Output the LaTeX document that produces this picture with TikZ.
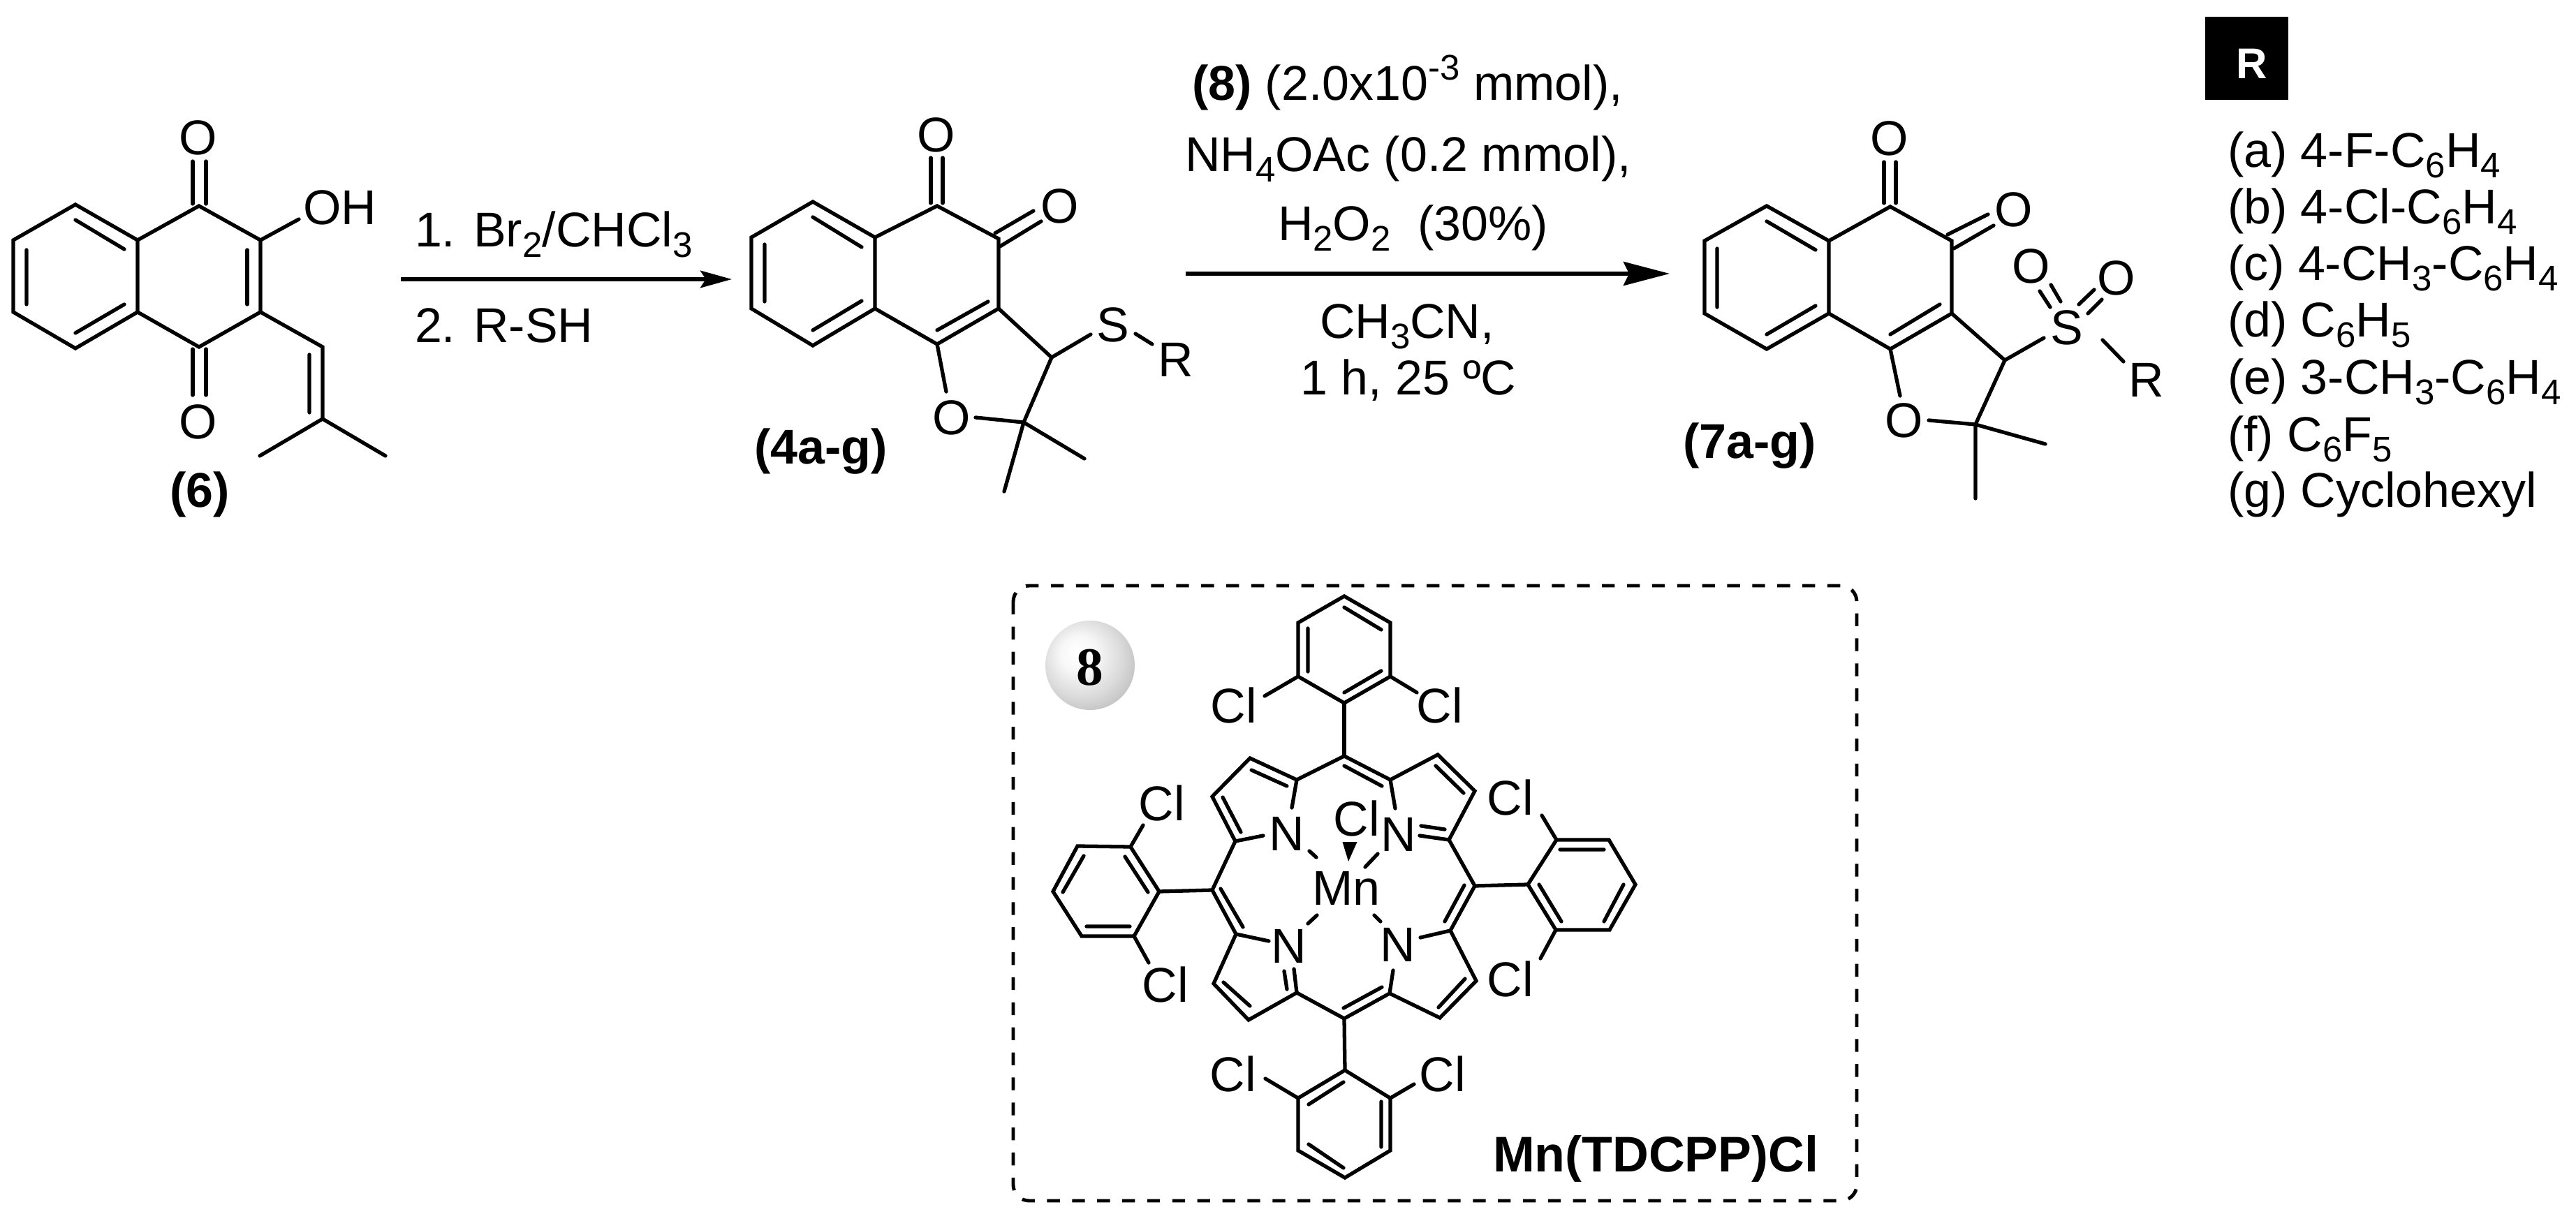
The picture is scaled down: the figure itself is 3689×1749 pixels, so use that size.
\documentclass[tikz,border=0pt]{standalone}
\usepackage{fontspec}
\setmainfont{Liberation Sans}
\newfontfamily\ballfont{Liberation Serif}
\usetikzlibrary{arrows.meta}
\newcommand{\sbs}[1]{\raisebox{-0.21em}{\fontsize{14.5}{14.5}\selectfont #1}}
\newcommand{\sps}[1]{\raisebox{0.42em}{\fontsize{14.5}{14.5}\selectfont #1}}
\pgfdeclareradialshading{ballshade}{\pgfpoint{-8bp}{8bp}}{%
  color(0bp)=(white); color(10bp)=(white!97!black); color(22bp)=(white!86!black);
  color(34bp)=(white!72!black); color(42bp)=(white!62!black); color(50bp)=(white!70!black)}
\tikzset{
  bond/.style={line width=1.5pt,line cap=round,line join=miter,black},
  atom/.style={inner sep=0pt,outer sep=0pt,font=\fontsize{19.9}{24}\selectfont},
  txt/.style={inner sep=0pt,outer sep=0pt,anchor=base west,font=\fontsize{19.9}{24}\selectfont},
  boldlab/.style={inner sep=0pt,outer sep=0pt,anchor=base west,font=\fontsize{19.9}{24}\selectfont\bfseries},
  rxnA/.style={line width=1.45pt,-{Stealth[length=12.8pt,width=7pt,inset=2.2pt]}},
  rxnB/.style={line width=1.45pt,-{Stealth[length=18.8pt,width=9.7pt,inset=2.3pt]}},
  frame/.style={line width=1.4pt,rounded corners=6.5pt,dash pattern=on 5.2pt off 5pt},
}
\begin{document}
\begin{tikzpicture}[x=0.01cm,y=-0.01cm]
\useasboundingbox (0,0) rectangle (3689,1749);

% ---------- compound 6
\draw[bond] (108,293)--(19,344)--(19,447)--(108,499)--(197,447)--(197,344)--cycle;
\draw[bond] (197,344)--(285,295)--(373,344)--(373,447)--(285,497)--(197,447);
\draw[bond] (108,315)--(178,357) (38,358)--(38,436) (108,477)--(178,436);
\draw[bond] (354,358)--(354,436);
\draw[bond] (276,292)--(276,231) (295,292)--(295,231);
\draw[bond] (276,500)--(276,566) (295,500)--(295,566);
\draw[bond] (373,344)--(428,314);
\draw[bond] (373,447)--(462,497)--(462,600) (443,508)--(443,591);
\draw[bond] (372,653)--(462,600)--(552,653);
\node[atom] (o6a) at (284,197) {O};
\node[atom] (o6b) at (284,604) {O};
\node[atom,anchor=west] (oh6) at (434,297) {OH};
\node[boldlab] (lab6) at (243,727) {(6)};

% ---------- first arrow
\node[txt] (ra1) at (594,354) {1. Br\sbs{2}/CHCl\sbs{3}};
\node[txt] (ra2) at (594,491) {2. R-SH};
\coordinate (a1s) at (574,400);
\coordinate (a1e) at (1048,400);
\draw[rxnA] (a1s)--(a1e);

% ---------- compound 4
\draw[bond] (1164,289)--(1076,340)--(1076,442)--(1164,495)--(1253,442)--(1253,340)--cycle;
\draw[bond] (1253,340)--(1342,295)--(1430,342)--(1430,442)--(1342,493)--(1253,442);
\draw[bond] (1164,311)--(1234,354) (1095,350)--(1095,432) (1164,473)--(1234,431);
\draw[bond] (1415,432)--(1342,473);
\draw[bond] (1333,291)--(1333,226) (1350,291)--(1350,226);
\draw[bond] (1425,334)--(1480,302) (1432,353)--(1491,317);
\draw[bond] (1430,442)--(1506,512)--(1466,605)--(1397,598);
\draw[bond] (1342,493)--(1355,561);
\draw[bond] (1466,605)--(1553,657) (1466,605)--(1438,704);
\draw[bond] (1506,512)--(1562,479) (1626,478)--(1650,493);
\node[atom] (o4a) at (1341,193) {O};
\node[atom] (o4b) at (1518,295) {O};
\node[atom] (o4c) at (1363,598) {O};
\node[atom] (s4) at (1594,465) {S};
\node[atom] (r4) at (1684,515) {R};
\node[boldlab] (lab4) at (1080,665) {(4a-g)};

% ---------- second arrow
\node[txt] (rb1) at (1707,144) {\textbf{(8)} (2.0x10\sps{-3} mmol),};
\node[txt] (rb2) at (1697,246) {NH\sbs{4}OAc (0.2 mmol),};
\node[txt] (rb3) at (1830,345) {H\sbs{2}O\sbs{2}\ \ (30\%)};
\node[txt] (rb4) at (1890,485) {CH\sbs{3}CN,};
\node[txt] (rb5) at (1862,566) {1 h, 25 ºC};
\coordinate (a2s) at (1698,392);
\coordinate (a2e) at (2391,392);
\draw[rxnB] (a2s)--(a2e);

% ---------- compound 7
\draw[bond] (2530,295)--(2441,345)--(2441,449)--(2530,500)--(2619,449)--(2619,345)--cycle;
\draw[bond] (2619,345)--(2707,296)--(2795,345)--(2795,449)--(2707,500)--(2619,449);
\draw[bond] (2530,317)--(2600,358) (2459,356)--(2459,440) (2530,479)--(2600,438);
\draw[bond] (2707,479)--(2778,436);
\draw[bond] (2698,291)--(2698,232) (2715,291)--(2715,232);
\draw[bond] (2789,336)--(2847,307) (2798,356)--(2855,323);
\draw[bond] (2795,449)--(2871,516)--(2829,608)--(2762,602);
\draw[bond] (2707,500)--(2721,567);
\draw[bond] (2829,608)--(2929,636) (2829,608)--(2829,714);
\draw[bond] (2871,516)--(2927,484) (3011,487)--(3041,518);
\draw[bond] (2921,417)--(2936,440) (2937,408)--(2951,432);
\draw[bond] (2977,436)--(2999,415) (2990,449)--(3010,429);
\node[atom] (o7a) at (2706,198) {O};
\node[atom] (o7b) at (2884,300) {O};
\node[atom] (o7c) at (2727,602) {O};
\node[atom] (o7d) at (2909,381) {O};
\node[atom] (o7e) at (3031,398) {O};
\node[atom] (s7) at (2960,469) {S};
\node[atom] (r7) at (3074,544) {R};
\node[boldlab] (lab7) at (2410,657) {(7a-g)};

% ---------- R table
\node[fill=black,minimum width=119*0.2845pt,minimum height=119*0.2845pt,inner sep=0pt] (rbox) at (3217.5,83.5) {};
\node[inner sep=0pt,text=white,font=\fontsize{17.5}{20}\selectfont\bfseries] (rlab) at (3225,91) {R};
\node[txt] (ra) at (3190,240) {(a) 4-F-C\sbs{6}H\sbs{4}};
\node[txt] (rb) at (3190,321) {(b) 4-Cl-C\sbs{6}H\sbs{4}};
\node[txt] (rc) at (3190,402) {(c) 4-CH\sbs{3}-C\sbs{6}H\sbs{4}};
\node[txt] (rd) at (3190,483) {(d) C\sbs{6}H\sbs{5}};
\node[txt] (re) at (3190,565) {(e) 3-CH\sbs{3}-C\sbs{6}H\sbs{4}};
\node[txt] (rf) at (3190,647) {(f) C\sbs{6}F\sbs{5}};
\node[txt] (rg) at (3190,727) {(g) Cyclohexyl};

% ---------- dashed frame
\draw[frame] (1451,839) rectangle (2659,1720);

% ---------- ball
\shade[shading=ballshade] (1561,953) circle (64);
\node[inner sep=0pt,font=\fontsize{22}{24}\selectfont\ballfont\bfseries] (n8) at (1561,956) {8};

% ---------- porphyrin: top aryl
\draw[bond] (1925,854)--(1859,892)--(1859,969)--(1925,1007)--(1991,969)--(1991,892)--cycle;
\draw[bond] (1925,870)--(1978,902) (1873,900)--(1873,962) (1925,992)--(1978,961);
\draw[bond] (1859,969)--(1811,997) (1991,969)--(2029,992);
\draw[bond] (1925,1007)--(1925,1083);
\node[atom] (cl1) at (1767,1010) {Cl};
\node[atom] (cl2) at (2062,1010) {Cl};

% ---------- macrocycle
\draw[bond] (1850,1157)--(1857,1117)--(1925,1083)--(1991,1117)--(1998,1158);
\draw[bond] (1925,1097)--(1979,1126);
\draw[bond] (1857,1117)--(1790,1086)--(1736,1141)--(1769,1205)--(1809,1197);
\draw[bond] (1792,1103)--(1843,1126) (1751,1142)--(1777,1192);
\draw[bond] (1991,1117)--(2059,1081)--(2112,1133)--(2075,1203)--(2033,1197);
\draw[bond] (2056,1097)--(2096,1136) (2069,1188)--(2035,1183);
\draw[bond] (1769,1205)--(1736,1275)--(1770,1338)--(1817,1348);
\draw[bond] (1748,1273)--(1780,1328);
\draw[bond] (2075,1203)--(2112,1269)--(2077,1333)--(2034,1343);
\draw[bond] (2097,1268)--(2069,1320);
\draw[bond] (1770,1338)--(1738,1409)--(1788,1461)--(1857,1422)--(1853,1388);
\draw[bond] (1752,1407)--(1790,1441) (1843,1417)--(1839,1391);
\draw[bond] (1857,1422)--(1925,1459)--(1990,1423)--(1995,1390);
\draw[bond] (1924,1444)--(1979,1414);
\draw[bond] (1990,1423)--(2062,1458)--(2114,1405)--(2077,1333);
\draw[bond] (2060,1443)--(2098,1402);
\node[atom] (n1) at (1843,1194) {N};
\node[atom] (n2) at (2003,1195) {N};
\node[atom] (n3) at (1846,1355) {N};
\node[atom] (n4) at (2002,1353) {N};
\node[atom] (mn) at (1928,1272) {Mn};
\node[atom] (cl0) at (1943,1172) {Cl};
\fill (1922.5,1206)--(1943.5,1206)--(1931,1234)--cycle;
\draw[bond] (1875,1219)--(1885,1228) (1973,1223)--(1955,1242);
\draw[bond] (1873,1323)--(1886,1311) (1968,1311)--(1977,1320);

% ---------- left aryl
\draw[bond] (1736,1275)--(1660,1277);
\draw[bond] (1543,1212)--(1619,1213)--(1660,1277)--(1624,1341)--(1549,1341)--(1508,1277)--cycle;
\draw[bond] (1552,1226)--(1522,1278) (1611,1227)--(1644,1278) (1556,1327)--(1618,1327);
\draw[bond] (1619,1213)--(1637,1182) (1624,1341)--(1645,1379);
\node[atom] (cl3) at (1664,1150) {Cl};
\node[atom] (cl4) at (1669,1410) {Cl};

% ---------- right aryl
\draw[bond] (2112,1269)--(2188,1267);
\draw[bond] (2188,1267)--(2229,1203)--(2304,1203)--(2342,1267)--(2305,1332)--(2228,1332)--cycle;
\draw[bond] (2234,1217)--(2297,1217) (2204,1267)--(2236,1320) (2325,1267)--(2297,1320);
\draw[bond] (2229,1203)--(2208,1168) (2228,1332)--(2206,1373);
\node[atom] (cl5) at (2163,1142) {Cl};
\node[atom] (cl6) at (2163,1402) {Cl};

% ---------- bottom aryl
\draw[bond] (1925,1459)--(1926,1533);
\draw[bond] (1926,1533)--(1859,1573)--(1859,1648)--(1926,1687)--(1991,1648)--(1991,1573)--cycle;
\draw[bond] (1924,1550)--(1874,1582) (1978,1578)--(1978,1643) (1924,1673)--(1874,1639);
\draw[bond] (1859,1573)--(1812,1545) (1991,1573)--(2025,1553);
\node[atom] (cl7) at (1766,1538) {Cl};
\node[atom] (cl8) at (2066,1538) {Cl};

\node[boldlab,font=\fontsize{20.4}{24}\selectfont\bfseries] (mnname) at (2138,1678) {Mn(TDCPP)Cl};
\end{tikzpicture}
\end{document}
